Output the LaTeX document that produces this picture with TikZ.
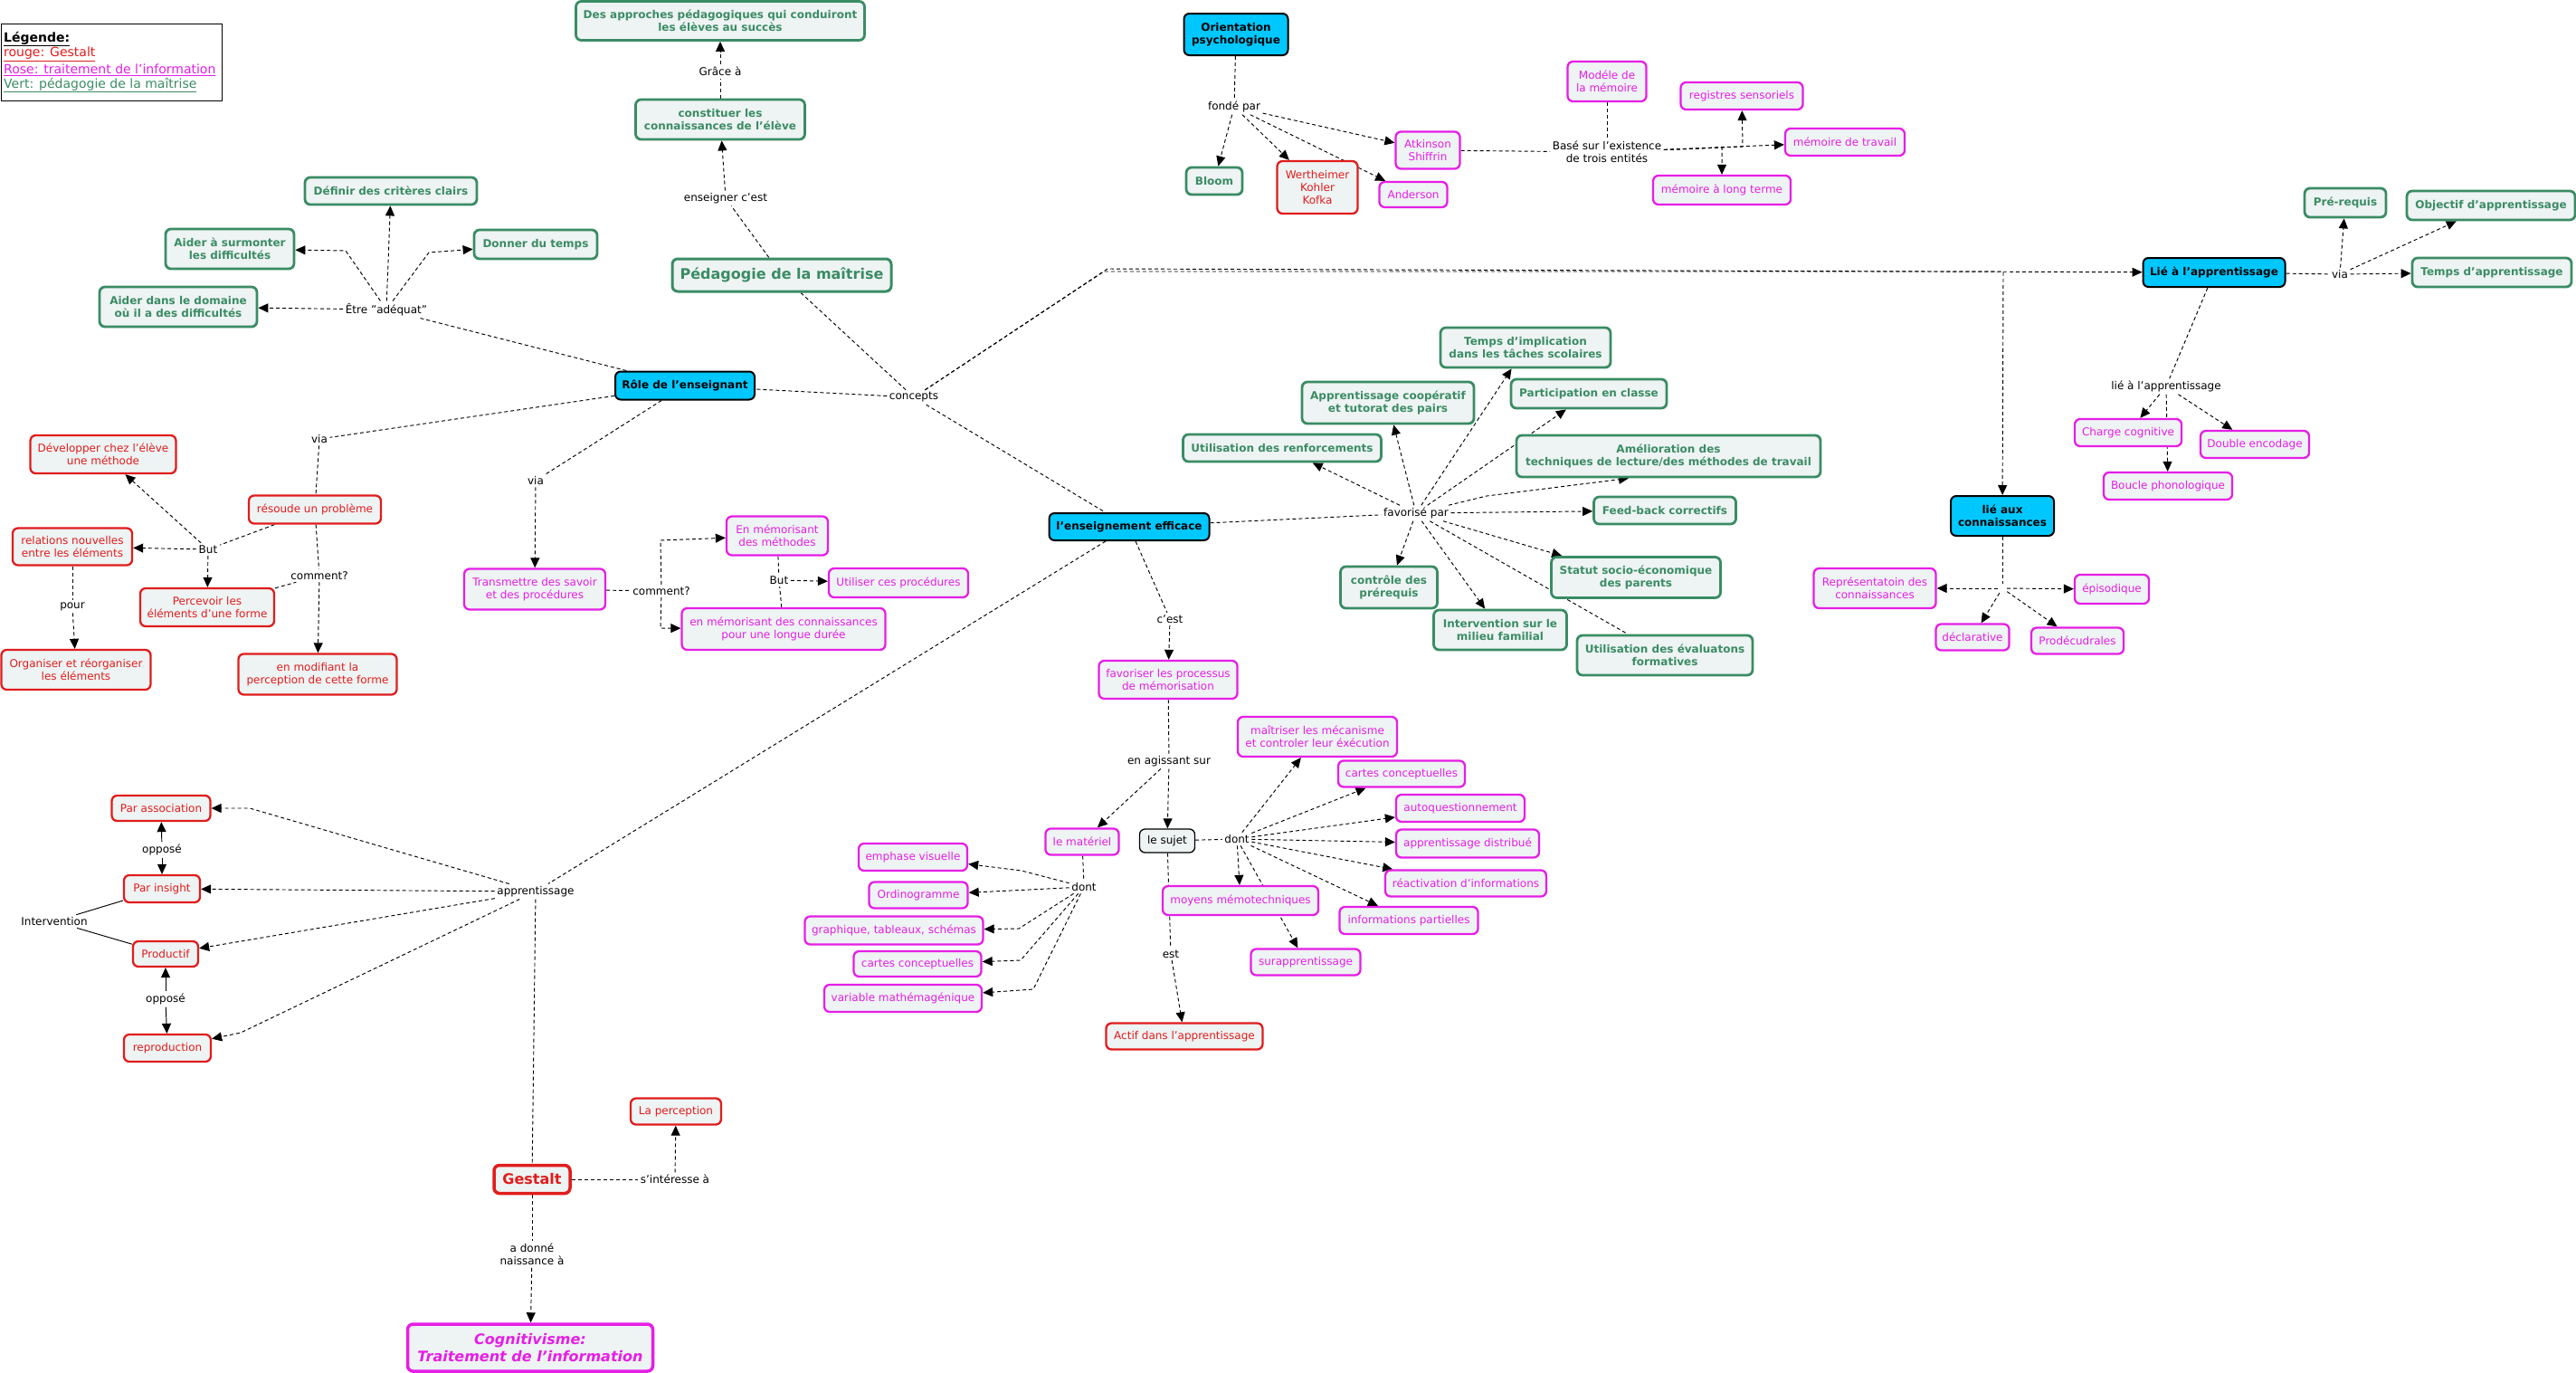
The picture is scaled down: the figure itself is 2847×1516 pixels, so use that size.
\documentclass[tikz,border=0pt]{standalone}
\usepackage{fontspec}
\setmainfont{DejaVu Sans}
\usetikzlibrary{arrows.meta}
\pgfdeclarelayer{bg}
\pgfsetlayers{bg,main}
\definecolor{boxfill}{RGB}{238,243,243}
\definecolor{grn}{RGB}{58,140,100}
\definecolor{rdc}{RGB}{225,28,28}
\definecolor{mgc}{RGB}{230,30,230}
\definecolor{cyc}{RGB}{0,200,255}
\newcommand\fsA{\fontsize{12}{14.4}\selectfont}
\newcommand\fsB{\fontsize{16}{19.6}\selectfont}
\newcommand\fsC{\fontsize{14}{17}\selectfont}
\newcommand\mybox[6]{\node[#1, minimum width=#4, minimum height=#5] (#2) at (#3) {#6};}
\tikzset{
  base/.style={rounded corners=6pt, fill=boxfill, align=center, inner sep=2pt, font=\fsA},
  gbox/.style={base, draw=grn, line width=2.8pt, text=grn, font=\bfseries\fsA},
  rbox/.style={base, draw=rdc, line width=2.3pt, text=rdc},
  mbox/.style={base, draw=mgc, line width=2.3pt, text=mgc},
  cbox/.style={base, draw=black, line width=2pt, fill=cyc, text=black, font=\bfseries\fsA},
  kbox/.style={base, draw=black, line width=1.3pt, text=black},
  lnk/.style={inner sep=2.5pt, align=center, font=\fsA, text=black},
  ln/.style={line width=0.95pt, dash pattern=on 4pt off 3pt},
  ar/.style={ln, -{Triangle[length=11pt,width=10pt]}},
  sol/.style={line width=0.95pt},
  sar/.style={sol, -{Triangle[length=11pt,width=10pt]}},
  legt/.style={anchor=west, inner sep=1pt, font=\fsC}
}
\begin{document}
\begin{tikzpicture}[x=1pt,y=-1pt]
\begin{pgfonlayer}{bg}
\fill[white] (0,0) rectangle (2847,1516);
\end{pgfonlayer}
\useasboundingbox (0,0) rectangle (2847,1516);

% legend
\node[draw=black, line width=1.3pt, anchor=north west, minimum width=244, minimum height=85, inner sep=0pt] (legbox) at (1,26) {};
\node[legt] (leg1) at (3,43) {\bfseries\underline{Légende:}};
\node[legt, text=rdc] (leg2) at (3,60) {\underline{rouge: Gestalt}};
\node[legt, text=mgc] (leg3) at (3,77) {\underline{Rose: traitement de l'information}};
\node[legt, text=grn] (leg4) at (3,94) {\underline{Vert: pédagogie de la maîtrise}};

% green boxes
\mybox{gbox}{apro}{796,23}{319}{43}{Des approches pédagogiques qui conduiront\\les élèves au succès}
\mybox{gbox}{const}{796,132}{187}{44}{constituer les\\connaissances de l'élève}
\mybox{gbox, line width=3pt, font=\bfseries\fsB}{peda}{864,304}{242}{36}{Pédagogie de la maîtrise}
\mybox{gbox}{defin}{432,211}{190}{30}{Définir des critères clairs}
\mybox{gbox}{surm}{254,275}{142}{44}{Aider à surmonter\\les difficultés}
\mybox{gbox}{donner}{592,270}{136}{32}{Donner du temps}
\mybox{gbox}{aider}{197,339}{174}{44}{Aider dans le domaine\\où il a des difficultés}
\mybox{gbox}{bloom}{1342,200}{62}{30}{Bloom}
\mybox{gbox}{tempsimp}{1686,384}{188}{44}{Temps d'implication\\dans les tâches scolaires}
\mybox{gbox}{coop}{1534,445}{190}{46}{Apprentissage coopératif\\et tutorat des pairs}
\mybox{gbox}{partic}{1756,435}{172}{32}{Participation en classe}
\mybox{gbox}{renf}{1417,495}{219}{30}{Utilisation des renforcements}
\mybox{gbox}{amel}{1844,504}{336}{46}{Amélioration des\\techniques de lecture/des méthodes de travail}
\mybox{gbox}{feed}{1840,564}{157}{30}{Feed-back correctifs}
\mybox{gbox}{statut}{1808,638}{187}{45}{Statut socio-économique\\des parents}
\mybox{gbox}{contr}{1535,649}{107}{46}{contrôle des\\prérequis}
\mybox{gbox}{interv}{1658,696}{147}{44}{Intervention sur le\\milieu familial}
\mybox{gbox}{evalf}{1840,724}{194}{44}{Utilisation des évaluatons\\formatives}
\mybox{gbox}{prereq}{2592,224}{90}{32}{Pré-requis}
\mybox{gbox}{objectif}{2753,227}{186}{32}{Objectif d'apprentissage}
\mybox{gbox}{tempsapp}{2754,301}{176}{32}{Temps d'apprentissage}

% cyan boxes
\mybox{cbox}{orient}{1366,38}{115}{46}{Orientation\\psychologique}
\mybox{cbox}{role}{757,426}{154}{31}{Rôle de l'enseignant}
\mybox{cbox}{ens}{1248,582}{177}{30}{l'enseignement efficace}
\mybox{cbox}{lie}{2447,301}{157}{32}{Lié à l'apprentissage}
\mybox{cbox}{lieaux}{2213,570}{114}{44}{lié aux\\connaissances}

% red boxes
\mybox{rbox}{werth}{1456,207}{89}{58}{Wertheimer\\Kohler\\Kofka}
\mybox{rbox}{dev}{114,502}{161}{42}{Développer chez l'élève\\une méthode}
\mybox{rbox}{resoud}{348,563}{146}{31}{résoude un problème}
\mybox{rbox}{relat}{80,604}{132}{41}{relations nouvelles\\entre les éléments}
\mybox{rbox}{perc}{229,671}{148}{42}{Percevoir les\\éléments d'une forme}
\mybox{rbox}{organ}{84,740}{165}{44}{Organiser et réorganiser\\les éléments}
\mybox{rbox}{modif}{351,745}{175}{45}{en modifiant la\\perception de cette forme}
\mybox{rbox}{assoc}{178,893}{109}{28}{Par association}
\mybox{rbox}{insight}{179,982}{84}{30}{Par insight}
\mybox{rbox}{prod}{183,1054}{72}{28}{Productif}
\mybox{rbox}{repro}{185,1158}{96}{30}{reproduction}
\mybox{rbox}{percep}{747,1228}{100}{29}{La perception}
\mybox{rbox, line width=3.5pt, font=\bfseries\fsB}{gestalt}{588,1303}{84}{31}{Gestalt}
\mybox{rbox}{actif}{1309,1145}{173}{29}{Actif dans l'apprentissage}

% magenta boxes
\mybox{mbox}{atk}{1578,166}{71}{41}{Atkinson\\Shiffrin}
\mybox{mbox}{anders}{1562,215}{75}{28}{Anderson}
\mybox{mbox}{modele}{1776,90}{87}{44}{Modéle de\\la mémoire}
\mybox{mbox}{regis}{1925,106}{135}{30}{registres sensoriels}
\mybox{mbox}{travail}{2039,157}{132}{30}{mémoire de travail}
\mybox{mbox}{longt}{1903,210}{152}{32}{mémoire à long terme}
\mybox{mbox}{charge}{2352,478}{118}{30}{Charge cognitive}
\mybox{mbox}{double}{2492,491}{120}{30}{Double encodage}
\mybox{mbox}{boucle}{2396,537}{142}{30}{Boucle phonologique}
\mybox{mbox}{repr}{2072,650}{135}{44}{Représentatoin des\\connaissances}
\mybox{mbox}{episo}{2334,651}{82}{32}{épisodique}
\mybox{mbox}{decl}{2180,704}{81}{29}{déclarative}
\mybox{mbox}{proc}{2296,708}{102}{29}{Prodécudrales}
\mybox{mbox}{transm}{591,651}{156}{45}{Transmettre des savoir\\et des procédures}
\mybox{mbox}{mem1}{859,592}{112}{43}{En mémorisant\\des méthodes}
\mybox{mbox}{utilis}{993,644}{154}{32}{Utiliser ces procédures}
\mybox{mbox}{mem2}{866,695}{225}{46}{en mémorisant des connaissances\\pour une longue durée}
\mybox{mbox}{favor}{1291,751}{153}{42}{favoriser les processus\\de mémorisation}
\mybox{mbox}{mater}{1196,930}{81}{29}{le matériel}
\mybox{mbox}{maitr}{1456,814}{176}{44}{maîtriser les mécanisme\\et controler leur éxécution}
\mybox{mbox}{cartesa}{1549,855}{140}{29}{cartes conceptuelles}
\mybox{mbox}{autoq}{1614,893}{142}{30}{autoquestionnement}
\mybox{mbox}{distr}{1622,932}{158}{31}{apprentissage distribué}
\mybox{mbox}{react}{1620,976}{178}{29}{réactivation d'informations}
\mybox{mbox}{infop}{1557,1017}{153}{30}{informations partielles}
\mybox{mbox}{moyens}{1371,995}{172}{32}{moyens mémotechniques}
\mybox{mbox}{surap}{1443,1063}{121}{29}{surapprentissage}
\mybox{mbox}{emph}{1009,947}{120}{30}{emphase visuelle}
\mybox{mbox}{ordin}{1015,989}{109}{29}{Ordinogramme}
\mybox{mbox}{graph}{988,1028}{197}{31}{graphique, tableaux, schémas}
\mybox{mbox}{cartesb}{1014,1065}{141}{28}{cartes conceptuelles}
\mybox{mbox}{varia}{998,1103}{174}{30}{variable mathémagénique}
\mybox{mbox, line width=3.5pt, font=\bfseries\itshape\fsB}{cogni}{586,1489}{271}{52}{Cognitivisme:\\Traitement de l'information}

% black box
\mybox{kbox}{sujet}{1290,929}{61}{26}{le sujet}

% link labels
\node[lnk] (grace) at (796,79) {Grâce à};
\node[lnk] (enseig) at (802,219) {enseigner c'est};
\node[lnk] (concepts) at (1010,439) {concepts};
\node[lnk] (fonde) at (1364,118) {fondé par};
\node[lnk] (base) at (1776,168) {Basé sur l'existence\\de trois entités};
\node[lnk] (etre) at (427,342) {Être "adéquat"};
\node[lnk] (via1) at (353,485) {via};
\node[lnk] (but1) at (230,607) {But};
\node[lnk] (pour) at (80,670) {pour};
\node[lnk] (comm1) at (353,636) {comment?};
\node[lnk] (via2) at (592,531) {via};
\node[lnk] (comm2) at (731,653) {comment?};
\node[lnk] (but2) at (861,641) {But};
\node[lnk] (cest) at (1293,684) {c'est};
\node[lnk] (favpar) at (1565,567) {favorisé par};
\node[lnk] (agis) at (1292,841) {en agissant sur};
\node[lnk] (donta) at (1367,927) {dont};
\node[lnk] (dontb) at (1198,980) {dont};
\node[lnk] (est) at (1294,1054) {est};
\node[lnk] (appr) at (592,985) {apprentissage};
\node[lnk] (oppa) at (179,939) {opposé};
\node[lnk] (oppb) at (183,1104) {opposé};
\node[lnk] (intlab) at (60,1018) {Intervention};
\node[lnk] (sint) at (746,1303) {s'intéresse à};
\node[lnk] (adonne) at (588,1386) {a donné\\naissance à};
\node[lnk] (viac) at (2586,303) {via};
\node[lnk] (lieapp) at (2394,427) {lié à l'apprentissage};
\node[inner sep=5pt] (junc) at (2213,650) {};

\begin{pgfonlayer}{bg}
% top left
\draw[ln] (role) -- (etre);
\draw[ar] (etre) -- (aider);
\draw[ar] (etre) -- (382,277) -- (surm);
\draw[ar] (etre) -- (defin);
\draw[ar] (etre) -- (474,279) -- (donner);
\draw[ln] (role) -- (via1);
\draw[ln] (via1) -- (resoud);
\draw[ln] (resoud) -- (but1);
\draw[ar] (but1) -- (dev);
\draw[ar] (but1) -- (relat);
\draw[ar] (but1) -- (perc);
\draw[ln] (relat) -- (pour);
\draw[ar] (pour) -- (organ);
\draw[ln] (resoud) -- (comm1);
\draw[ln] (perc) -- (comm1);
\draw[ar] (comm1) -- (modif);
\draw[ln] (role) -- (via2);
\draw[ar] (via2) -- (transm);
\draw[ln] (transm) -- (comm2);
\draw[ar] (comm2) -- (730,597) -- (mem1);
\draw[ar] (comm2) -- (730,694) -- (mem2);
\draw[ln] (mem1) -- (but2);
\draw[ln] (mem2) -- (but2);
\draw[ar] (but2) -- (utilis);
% middle
\draw[ln] (const) -- (grace);
\draw[ar] (grace) -- (apro);
\draw[ln] (peda) -- (enseig);
\draw[ar] (enseig) -- (const);
\draw[ln] (peda) -- (concepts);
\draw[ln] (concepts) -- (role);
\draw[ln] (concepts) -- (ens);
\draw[ar] (concepts) -- (1224,297) -- (lie);
\draw[ar] (concepts) -- (1220,300) -- (2214,300) -- (lieaux);
\draw[ln] (ens) -- (favpar);
\draw[ar] (favpar) -- (renf);
\draw[ar] (favpar) -- (coop);
\draw[ar] (favpar) -- (tempsimp);
\draw[ar] (favpar) -- (partic);
\draw[ar] (favpar) -- (1643,548) -- ([xshift=-44pt]amel.south);
\draw[ar] (favpar) -- (feed);
\draw[ar] (favpar) -- (statut);
\draw[ar] (favpar) -- (interv);
\draw[ar] (favpar) -- (contr);
\draw[ln] (favpar) -- (evalf);
% top right
\draw[ln] (orient) -- (fonde);
\draw[ar] (fonde) -- (bloom);
\draw[ar] (fonde) -- (werth);
\draw[ar] (fonde) -- (atk);
\draw[ar] (fonde) -- (anders);
\draw[ln] (atk) -- (base);
\draw[ln] (modele) -- (base);
\draw[ar] (base) -- (1926,162) -- (regis);
\draw[ar] (base) -- (1903,163) -- (longt);
\draw[ar] (base) -- (travail);
% right
\draw[ln] (lie) -- (viac);
\draw[ar] (viac) -- (tempsapp);
\draw[ar] (viac) -- (prereq);
\draw[ar] (viac) -- (objectif);
\draw[ln] (lie) -- (lieapp);
\draw[ar] (lieapp) -- (charge);
\draw[ar] (lieapp) -- (double);
\draw[ar] (lieapp) -- (boucle);
\draw[ln] (lieaux) -- (junc);
\draw[ar] (junc) -- (repr);
\draw[ar] (junc) -- (episo);
\draw[ar] (junc) -- (decl);
\draw[ar] (junc) -- (proc);
% bottom centre
\draw[ln] (ens) -- (cest);
\draw[ar] (cest) -- (favor);
\draw[ln] (favor) -- (agis);
\draw[ar] (agis) -- (mater);
\draw[ar] (agis) -- (sujet);
\draw[ln] (sujet) -- (donta);
\draw[ar] (donta) -- (maitr);
\draw[ar] (donta) -- (cartesa);
\draw[ar] (donta) -- (autoq);
\draw[ar] (donta) -- (distr);
\draw[ar] (donta) -- (react);
\draw[ar] (donta) -- (infop);
\draw[ar] (donta) -- (moyens);
\draw[ar] (donta) -- (surap);
\draw[ln] (sujet) -- (est);
\draw[ar] (est) -- (actif);
\draw[ln] (mater) -- (dontb);
\draw[ar] (dontb) -- (1129,962) -- (emph);
\draw[ar] (dontb) -- (ordin);
\draw[ar] (dontb) -- (1126,1026) -- (graph);
\draw[ar] (dontb) -- (1128,1061) -- (cartesb);
\draw[ar] (dontb) -- (1142,1093) -- (varia);
% gestalt area
\draw[ln] (ens) -- (appr);
\draw[ar] (appr) -- (276,893) -- (assoc);
\draw[ar] (appr) -- (insight);
\draw[ar] (appr) -- (prod);
\draw[ar] (appr) -- (266,1141) -- (repro);
\draw[ln] (appr) -- (gestalt);
\draw[sar] (oppa) -- (assoc);
\draw[sar] (oppa) -- (insight);
\draw[sar] (oppb) -- (prod);
\draw[sar] (oppb) -- (repro);
\draw[sol] (intlab) -- (insight);
\draw[sol] (intlab) -- (prod);
\draw[ln] (gestalt) -- (sint);
\draw[ar] (sint) -- (percep);
\draw[ln] (gestalt) -- (adonne);
\draw[ar] (adonne) -- (cogni);
\end{pgfonlayer}
\end{tikzpicture}
\end{document}
